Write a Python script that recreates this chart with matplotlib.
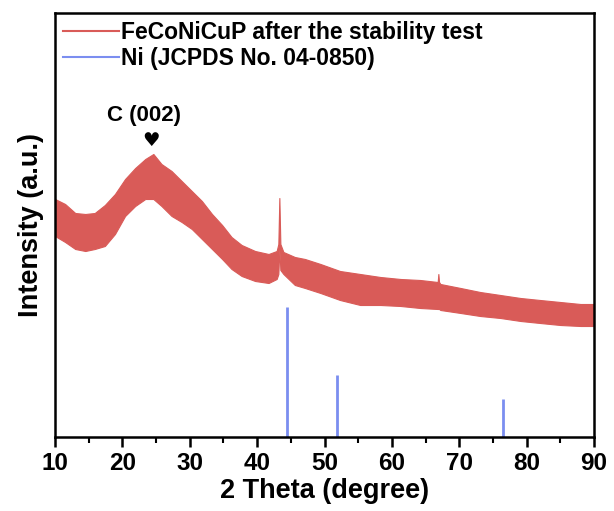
import numpy as np
import matplotlib
matplotlib.use('Agg')
import matplotlib.pyplot as plt

plt.rcParams['font.family'] = ['Liberation Sans', 'DejaVu Sans']
plt.rcParams['font.weight'] = 'bold'

two_theta = [10.0, 11.5, 13.0, 14.5, 15.9, 17.4, 18.9, 20.4, 21.9, 23.4, 24.6,
             25.8, 27.3, 28.8, 30.3, 31.8, 33.3, 34.8, 36.2, 37.7, 39.7, 41.7,
             42.9, 43.15, 43.3, 43.45, 43.9, 45.6, 47.1, 49.4, 52.3, 55.3, 58.3,
             61.3, 64.2, 66.8, 66.9, 67.0, 67.2, 70.2, 73.1, 76.1, 79.1, 82.0,
             85.0, 88.0, 90.0]
band_top = [238, 233, 224, 223, 224, 232, 243, 258, 269, 278, 283,
            273, 266, 256, 246, 236, 223, 212, 200, 192, 186, 183,
            186, 193, 239, 193, 185, 180, 178, 173, 166, 163, 160,
            158, 157, 155, 163, 155, 153, 149, 145, 142, 139, 137,
            135, 133, 133]
band_bottom = [201, 195, 188, 186, 188, 191, 203, 221, 231, 238, 238,
               231, 221, 215, 208, 198, 188, 178, 168, 161, 156, 154,
               158, 163, 188, 167, 163, 152, 149, 144, 137, 132, 132,
               131, 129, 128, 128, 128, 127, 124, 121, 119, 116, 114,
               112, 111, 111]

# Ni reference lines (JCPDS 04-0850)
ni_pos = [44.5, 51.85, 76.45]
ni_height = [130, 62, 38]

red = '#d95b58'
blue = '#7b8ef0'

fig = plt.figure(figsize=(6.14, 5.11), dpi=100)
ax = fig.add_axes([55 / 614, 1 - 437 / 511, 539 / 614, 424.3 / 511])

ax.fill_between(two_theta, band_bottom, band_top, color=red, lw=0.8, ec=red)
ax.plot([], [], color=red, lw=1.5, label='FeCoNiCuP after the stability test')
ax.vlines(ni_pos, 0, ni_height, color=blue, lw=2)
ax.plot([], [], color=blue, lw=1.5, label='Ni (JCPDS No. 04-0850)')

ax.set_xlim(10, 90)
ax.set_ylim(0, 424.3)
ax.set_xticks(range(10, 91, 10))
ax.set_xticks(range(15, 90, 10), minor=True)
ax.set_yticks([])
ax.tick_params(axis='x', which='major', direction='out', length=7, width=1.8,
               labelsize=17.5, pad=4)
ax.tick_params(axis='x', which='minor', direction='out', length=4, width=1.5)
for lab in ax.get_xticklabels():
    lab.set_fontweight('bold')
for sp in ax.spines.values():
    sp.set_linewidth(1.8)

ax.set_xlabel('2 Theta (degree)', fontsize=19.5, fontweight='bold', labelpad=2)
ax.set_ylabel('Intensity (a.u.)', fontsize=19.5, fontweight='bold', labelpad=8)

ax.text(23.2, 321, 'C (002)', fontsize=16, fontweight='bold', ha='center', va='center')
ax.text(24.3, 297, '\u2665', fontsize=14, ha='center', va='center',
        family=['DejaVu Sans'])

ax.legend(loc='upper left', bbox_to_anchor=(0.0, 1.0), frameon=False,
          handlelength=2.45, handletextpad=0.08, borderaxespad=0.1,
          borderpad=0.25, labelspacing=0.15,
          prop={'weight': 'bold', 'size': 16.5})

fig.savefig('out.png', dpi=100)
